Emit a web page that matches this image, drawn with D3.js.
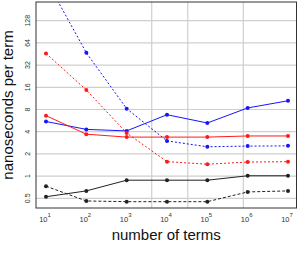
<!DOCTYPE html>
<html>
<head>
<meta charset="utf-8">
<script src="https://cdn.jsdelivr.net/npm/d3@7"></script>
<style>
  body { margin: 0; background: #fff; }
  text { font-family: "Liberation Sans", Arial, sans-serif; }
</style>
</head>
<body>
<svg id="chart" width="300" height="257"></svg>
<script>
const terms = [1e1, 1e2, 1e3, 1e4, 1e5, 1e6, 1e7];
const blueSolid  = [5.5, 4.3, 4.1, 6.8, 5.25, 8.4, 10.5];
const blueDashed = [460, 47, 8.2, 3.0, 2.5, 2.55, 2.57];
const redSolid   = [6.6, 3.7, 3.38, 3.38, 3.38, 3.5, 3.5];
const redDashed  = [46, 14.7, 3.84, 1.57, 1.45, 1.55, 1.57];
const blackSolid = [0.525, 0.63, 0.88, 0.88, 0.88, 1.01, 1.01];
const blackDashed = [0.73, 0.46, 0.45, 0.45, 0.45, 0.61, 0.63];
const yTicks = [0.5, 1, 2, 4, 8, 16, 32, 64, 128];
const xGrid = [4180, 32700, 780000];

const series = [
  {vals: blueSolid, color: "#1515ff", dash: null},
  {vals: blueDashed, color: "#1515ff", dash: "2,2"},
  {vals: redSolid, color: "#ff1a1a", dash: null},
  {vals: redDashed, color: "#ff1a1a", dash: "2,2"},
  {vals: blackSolid, color: "#222", dash: null},
  {vals: blackDashed, color: "#222", dash: "3,2"}
];

const svg = d3.select("#chart");
const box = {left: 36, top: 2, right: 296.5, bottom: 208};

const x = d3.scaleLog().domain([1e1, 1e7]).range([46, 288]);
const y = d3.scaleLog().base(2).domain([0.5, 128]).range([198.3, 20.7]);

svg.append("clipPath").attr("id", "clip")
  .append("rect")
  .attr("x", box.left).attr("y", box.top)
  .attr("width", box.right - box.left).attr("height", box.bottom - box.top);

// grid
svg.append("g").selectAll("line")
  .data(yTicks)
  .join("line")
  .attr("x1", box.left).attr("x2", box.right)
  .attr("y1", d => y(d)).attr("y2", d => y(d))
  .attr("stroke", "#cfcfcf").attr("stroke-width", 1.2);

svg.append("g").selectAll("line")
  .data(xGrid)
  .join("line")
  .attr("y1", box.top).attr("y2", box.bottom)
  .attr("x1", d => x(d)).attr("x2", d => x(d))
  .attr("stroke", "#cfcfcf").attr("stroke-width", 1.2);

// lines + points
const line = d3.line()
  .x((d, i) => x(terms[i]))
  .y(d => y(d));

const plot = svg.append("g").attr("clip-path", "url(#clip)");

series.forEach(s => {
  plot.append("path")
    .attr("d", line(s.vals))
    .attr("fill", "none")
    .attr("stroke", s.color)
    .attr("stroke-width", 1)
    .attr("stroke-dasharray", s.dash);

  plot.selectAll(null)
    .data(s.vals)
    .join("circle")
    .attr("cx", (d, i) => x(terms[i]))
    .attr("cy", d => y(d))
    .attr("r", 2)
    .attr("fill", s.color);
});

// frame
svg.append("rect")
  .attr("x", box.left).attr("y", box.top)
  .attr("width", box.right - box.left).attr("height", box.bottom - box.top)
  .attr("fill", "none").attr("stroke", "#333").attr("stroke-width", 1);

// y tick labels, rotated
svg.append("g").selectAll("text")
  .data(yTicks)
  .join("text")
  .attr("transform", d => `translate(30,${y(d)}) rotate(-90)`)
  .attr("text-anchor", "middle")
  .attr("font-size", 7)
  .attr("fill", "#333")
  .text(d => d);

// x tick labels 10^n
const xl = svg.append("g").selectAll("text")
  .data(terms)
  .join("text")
  .attr("x", d => x(d) - 1)
  .attr("y", 222)
  .attr("text-anchor", "middle")
  .attr("font-size", 7.5)
  .attr("fill", "#333");
xl.append("tspan").text("10");
xl.append("tspan")
  .attr("dy", -5)
  .attr("font-size", 6)
  .text(d => Math.round(Math.log10(d)));

// axis titles
svg.append("text")
  .attr("x", (box.left + box.right) / 2)
  .attr("y", 240)
  .attr("text-anchor", "middle")
  .attr("font-size", 15)
  .attr("fill", "#111")
  .text("number of terms");

svg.append("text")
  .attr("transform", `translate(13,${(box.top + box.bottom) / 2}) rotate(-90)`)
  .attr("text-anchor", "middle")
  .attr("font-size", 15)
  .attr("fill", "#111")
  .text("nanoseconds per term");
</script>
</body>
</html>
